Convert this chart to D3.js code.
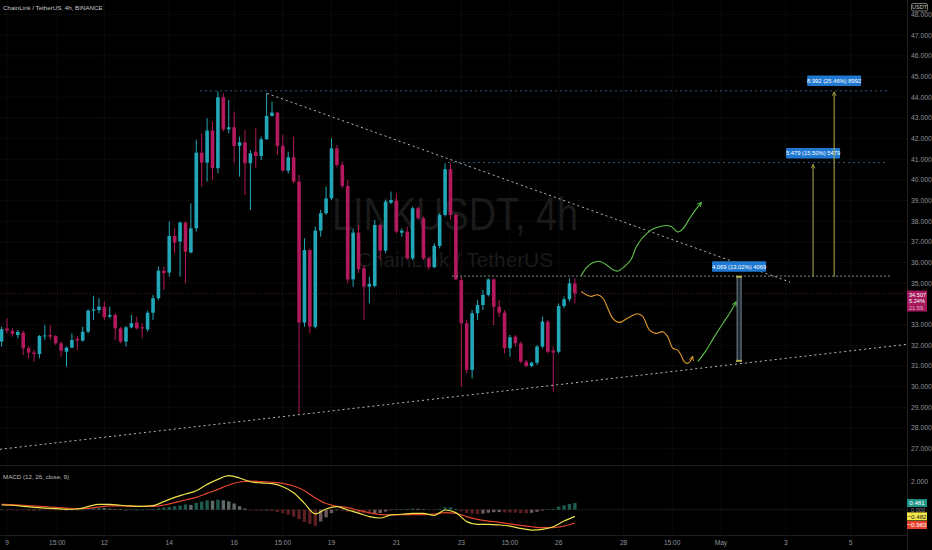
<!DOCTYPE html>
<html><head><meta charset="utf-8">
<script src="https://cdn.jsdelivr.net/npm/d3@7/dist/d3.min.js"></script>
<style>html,body{margin:0;padding:0;background:#000;overflow:hidden}svg{display:block}</style>
</head><body><svg id="c" width="932" height="550"></svg>
<script>
// ---------- DATA ----------
const title = "ChainLink / TetherUS, 4h, BINANCE";
const firstCandleDay = 8 + 20/24; // Apr 8 20:00, 4h candles
const openP  = [32.18,32.82,32.71,32.50,32.61,31.86,31.65,31.58,32.45,32.50,32.45,32.10,31.69,31.89,32.31,32.23,32.66,33.68,33.71,33.87,33.39,33.47,32.82,32.18,32.87,33.10,32.87,32.77,33.58,34.28,35.61,35.52,37.29,37.02,37.94,36.49,37.66,41.32,40.84,42.39,40.57,44.00,42.45,42.55,41.65,41.82,40.81,41.37,41.16,41.97,43.10,43.26,41.65,40.45,41.10,39.92,33.10,36.61,32.90,37.55,38.39,39.11,41.53,40.73,39.71,35.19,37.45,35.73,34.84,34.87,37.82,36.58,38.90,39.00,37.45,37.50,36.21,38.63,38.15,36.21,35.78,36.81,38.31,40.52,38.31,35.16,33.07,30.81,33.55,33.95,34.44,35.19,33.87,33.58,31.86,32.42,32.10,31.21,31.00,31.16,31.94,33.15,31.74,31.69,33.90,34.23,35.00];
const highP  = [32.90,33.31,32.82,32.74,32.71,31.97,31.78,32.50,32.99,32.99,32.50,32.18,31.94,32.58,32.45,32.90,33.74,34.40,34.28,34.13,33.87,33.55,32.90,32.94,33.47,33.39,33.07,33.68,34.44,35.81,35.81,37.99,37.66,37.99,37.99,38.87,41.94,42.26,42.99,42.82,44.28,44.19,43.87,43.31,42.10,42.42,41.45,42.50,42.10,44.19,43.79,43.31,42.18,41.37,42.10,40.24,37.18,36.69,37.74,38.55,39.68,42.02,41.69,40.89,40.00,37.66,37.82,35.89,35.32,38.07,37.90,39.03,39.44,39.36,37.66,37.74,38.71,38.71,38.23,36.29,36.94,38.39,40.81,40.81,38.39,35.32,33.23,33.71,34.19,34.68,35.24,35.24,34.19,33.71,32.50,32.50,32.18,31.29,31.21,32.02,33.39,33.23,31.94,34.03,34.36,35.24,35.24];
const lowP   = [31.94,32.58,32.42,32.34,31.53,31.37,31.21,31.37,32.26,32.26,32.02,31.45,30.97,31.86,31.78,32.18,32.58,33.23,33.55,33.23,33.31,32.26,32.10,31.94,32.82,32.77,32.34,32.66,33.23,34.20,34.68,35.32,36.45,35.32,35.00,36.45,37.50,39.68,39.92,40.00,40.32,42.34,42.26,40.81,40.16,39.27,38.55,40.57,40.97,41.94,43.07,41.21,40.40,40.32,39.84,28.71,32.90,32.58,32.82,37.26,38.31,39.03,40.61,39.60,35.00,34.84,35.49,33.23,34.03,34.81,36.13,36.45,38.84,37.42,37.26,36.13,36.13,38.07,36.13,35.65,35.73,36.69,38.23,38.07,35.16,30.00,30.65,30.40,33.23,33.71,34.36,32.98,33.39,31.61,31.45,31.94,31.13,30.94,30.94,31.05,31.86,31.61,29.76,31.61,33.79,34.11,34.03];
const closeP = [32.78,32.71,32.55,32.65,31.86,31.65,31.58,32.45,32.48,32.42,32.10,31.74,31.89,32.26,32.23,32.66,33.68,33.74,33.87,33.36,33.47,32.82,32.18,32.87,33.07,32.82,32.82,33.58,34.28,35.61,35.49,37.29,36.97,37.94,36.53,37.66,41.32,40.84,42.39,40.57,44.00,42.45,42.55,41.65,41.82,40.81,41.29,41.16,41.97,43.10,43.26,41.65,40.45,41.10,39.92,33.10,36.61,32.90,37.55,38.39,39.11,41.53,40.73,39.71,35.19,37.45,35.68,34.84,34.97,37.82,36.58,38.95,39.03,37.50,37.55,36.21,38.63,38.15,36.21,35.78,36.81,38.31,40.52,38.31,35.19,33.07,30.81,33.55,33.95,34.44,35.19,33.87,33.58,31.86,32.39,32.10,31.21,31.00,31.16,31.94,33.15,31.69,31.65,33.90,34.23,35.00,34.51];

// MACD (12,26,close,9)
const macdHist = [0.00,-0.02,-0.03,-0.04,-0.06,-0.07,-0.06,-0.03,-0.03,-0.03,-0.05,-0.07,-0.07,-0.04,-0.03,0.00,0.06,0.12,0.15,0.12,0.08,0.04,0.02,0.00,0.01,0.00,0.00,0.02,0.05,0.10,0.15,0.20,0.25,0.30,0.38,0.35,0.50,0.58,0.68,0.65,0.72,0.68,0.60,0.45,0.25,0.08,-0.03,-0.06,-0.07,-0.05,-0.10,-0.17,-0.25,-0.35,-0.50,-0.68,-0.88,-1.02,-1.18,-0.85,-0.55,-0.25,-0.05,-0.08,-0.15,-0.18,-0.20,-0.25,-0.28,-0.27,-0.24,-0.14,-0.04,0.02,0.04,0.03,0.08,0.07,0.02,-0.02,-0.03,0.05,0.17,0.17,0.04,-0.12,-0.24,-0.28,-0.32,-0.28,-0.22,-0.18,-0.17,-0.20,-0.20,-0.21,-0.25,-0.26,-0.22,-0.15,-0.06,0.02,0.06,0.22,0.32,0.42,0.48];
const macdIdx = [0,2,4,6,8,10,12,14,16,18,20,22,24,26,28,30,32,34,36,38,40,42,44,46,48,50,52,54,56,58,60,62,64,66,68,70,72,74,76,78,80,82,84,86,88,90,92,94,96,98,100,102,104,106];
const macdLine = [0.34,0.32,0.24,0.17,0.12,0.08,0.03,0.05,0.22,0.39,0.39,0.32,0.27,0.24,0.29,0.58,0.89,1.13,1.37,1.83,2.19,2.46,2.29,2.02,1.93,1.88,1.66,1.23,0.46,-0.30,0.05,0.22,-0.02,-0.25,-0.50,-0.60,-0.38,-0.33,-0.26,-0.26,-0.41,-0.02,-0.21,-0.86,-1.06,-1.06,-1.10,-1.18,-1.35,-1.47,-1.42,-1.23,-0.82,-0.48];
const signalLine = [0.39,0.36,0.32,0.27,0.22,0.17,0.12,0.08,0.10,0.20,0.27,0.27,0.24,0.24,0.24,0.34,0.51,0.70,0.89,1.18,1.47,1.78,2.00,2.07,2.02,1.98,1.90,1.71,1.37,0.85,0.45,0.25,0.15,-0.05,-0.22,-0.35,-0.38,-0.36,-0.36,-0.36,-0.31,-0.21,-0.26,-0.50,-0.70,-0.82,-0.91,-1.03,-1.13,-1.23,-1.30,-1.30,-1.18,-0.96];

// axis ticks
const priceTicks = [27,28,29,30,31,32,33,34,35,36,37,38,39,40,41,42,43,44,45,46,47,48];
const macdTicks = [2, 0];
const timeTickDays   = [9,10.55,12,14,16,17.5,19,21,23,24.5,26,28,29.5,31,33,35];
const timeTickLabels = ["9","15:00","12","14","16","15:00","19","21","23","15:00","26","28","15:00","May","3","5"];

// drawings (day, price)
const hLines = [
  {d0:14.95, d1:36.21, p:44.31, kind:"blue"},
  {d0:22.59, d1:36.15, p:40.84, kind:"blue"},
  {d0:22.71, d1:36.21, p:35.35, kind:"grey"}
];
const trendDown = [[17.01,44.19],[33.13,35.06]];
const trendUp   = [[8.78,26.97],[36.74,32.05]];
const greenUpDays   = [26.69,26.85,27.05,27.25,27.46,27.66,27.81,28.02,28.23,28.38,28.54,28.74,28.85,29.05,29.31,29.47,29.67,29.83,30.03,30.24,30.40];
const greenUpPrices = [35.35,35.75,35.99,36.07,35.91,35.67,35.59,35.80,36.15,36.72,37.12,37.44,37.58,37.71,37.80,37.75,37.48,37.64,38.12,38.60,38.92];
const orangeDays   = [26.69,26.85,27.00,27.20,27.36,27.51,27.66,27.87,28.13,28.43,28.59,28.80,29.00,29.21,29.36,29.52,29.67,29.77,29.87,29.98,30.08,30.13];
const orangePrices = [34.61,34.45,34.37,34.45,34.29,33.81,33.32,33.11,33.32,33.53,33.40,32.74,32.58,32.66,32.42,31.86,31.77,31.53,31.21,31.13,31.29,31.48];
const greenLowDays   = [30.29,30.55,30.80,31.06,31.27,31.47];
const greenLowPrices = [31.21,31.77,32.42,33.06,33.55,34.11];
const measures = [
  {d:31.56, p0:31.25, p1:35.32, label:"4.069 (13.02%) 4069", kind:"box"},
  {d:33.84, p0:35.32, p1:40.80, label:"5.479 (15.50%) 5479", kind:"arrow"},
  {d:34.49, p0:35.32, p1:44.31, label:"8.992 (25.46%) 8992", kind:"arrow"}
];
const lastPrice = 34.507, lastChange = "5.24%", countdown = "21:59";
const lastMacd = -0.482, lastSignal = -0.963, lastHist = 0.481;

// ---------- LAYOUT ----------
const svg = d3.select("#c");
const W = 907, mainBot = 465, macdTop = 466, macdBot = 535;
const font = "'Liberation Sans', Arial, sans-serif";
const upC = "#22a7b8", dnC = "#b3195d";

const x = d3.scaleLinear().domain([9,35]).range([7, 7 + 26*32.45]);
const y = d3.scaleLinear().domain([27,48]).range([448.7,14.6]);
const ym = d3.scaleLinear().domain([0,2]).range([509.7,482]);
const cx = i => x(firstCandleDay + i/6);

svg.append("rect").attr("width",932).attr("height",550).attr("fill","#000");
const defs = svg.append("defs");
defs.append("clipPath").attr("id","cm").append("rect").attr("x",0).attr("y",0).attr("width",W).attr("height",mainBot);
defs.append("clipPath").attr("id","cd").append("rect").attr("x",0).attr("y",macdTop).attr("width",W).attr("height",macdBot-macdTop);
function mk(id,color){
  defs.append("marker").attr("id",id).attr("viewBox","0 0 10 10").attr("refX",9).attr("refY",5)
   .attr("markerWidth",5).attr("markerHeight",5).attr("orient","auto")
   .append("path").attr("d","M1,1 L9,5 L1,9").attr("fill","none").attr("stroke",color).attr("stroke-width",1.6);
}
mk("ag","#5fc04a"); mk("ao","#e39a2c"); mk("ay","#b3ad4c");

// grid
const grid = svg.append("g");
grid.selectAll("line.h").data(priceTicks).join("line")
  .attr("x1",0).attr("x2",W).attr("y1",d=>y(d)).attr("y2",d=>y(d)).attr("stroke","#0b0b0b");
grid.selectAll("line.v").data(timeTickDays).join("line")
  .attr("x1",d=>x(d)).attr("x2",d=>x(d)).attr("y1",0).attr("y2",macdBot).attr("stroke","#0b0b0b");

// watermark
svg.append("text").attr("x",455).attr("y",230).attr("text-anchor","middle").attr("font-family",font)
  .attr("font-size",46).attr("textLength",246).attr("lengthAdjust","spacingAndGlyphs")
  .attr("fill","#1a1a1a").text("LINKUSDT, 4h");
svg.append("text").attr("x",455).attr("y",267).attr("text-anchor","middle").attr("font-family",font)
  .attr("font-size",21).attr("textLength",196).attr("lengthAdjust","spacingAndGlyphs")
  .attr("fill","#1a1a1a").text("ChainLink / TetherUS");

// main pane
const gm = svg.append("g").attr("clip-path","url(#cm)");
gm.append("line").attr("x1",0).attr("x2",W).attr("y1",y(lastPrice)).attr("y2",y(lastPrice))
  .attr("stroke","#4a1530").attr("stroke-dasharray","1,2");

const idx = d3.range(openP.length);
const bw = 3.6;
gm.selectAll("line.w").data(idx).join("line")
  .attr("x1",i=>cx(i)).attr("x2",i=>cx(i)).attr("y1",i=>y(highP[i])).attr("y2",i=>y(lowP[i]))
  .attr("stroke",i=>closeP[i]>=openP[i]?upC:dnC).attr("stroke-width",1);
gm.selectAll("rect.b").data(idx).join("rect")
  .attr("x",i=>cx(i)-bw/2).attr("width",bw)
  .attr("y",i=>y(Math.max(openP[i],closeP[i])))
  .attr("height",i=>Math.max(1,Math.abs(y(openP[i])-y(closeP[i]))))
  .attr("fill",i=>closeP[i]>=openP[i]?upC:dnC);

hLines.forEach(h=>{
  gm.append("line").attr("x1",x(h.d0)).attr("x2",x(h.d1)).attr("y1",y(h.p)).attr("y2",y(h.p))
    .attr("stroke",h.kind==="blue"?"#2e5b86":"#8c8c8c").attr("stroke-width",1)
    .attr("stroke-dasharray",h.kind==="blue"?"2,3":"2,2");
});
[trendDown,trendUp].forEach(t=>{
  gm.append("line").attr("x1",x(t[0][0])).attr("y1",y(t[0][1])).attr("x2",x(t[1][0])).attr("y2",y(t[1][1]))
    .attr("stroke","#b9b9b9").attr("stroke-width",1).attr("stroke-dasharray","2,3");
});
const lineGen = d3.line().x(d=>x(d[0])).y(d=>y(d[1])).curve(d3.curveCatmullRom);
gm.append("path").attr("d",lineGen(d3.zip(greenUpDays,greenUpPrices))).attr("fill","none")
  .attr("stroke","#5fc04a").attr("stroke-width",1.1).attr("marker-end","url(#ag)");
gm.append("path").attr("d",lineGen(d3.zip(orangeDays,orangePrices))).attr("fill","none")
  .attr("stroke","#e39a2c").attr("stroke-width",1.1).attr("marker-end","url(#ao)");
gm.append("path").attr("d",lineGen(d3.zip(greenLowDays,greenLowPrices))).attr("fill","none")
  .attr("stroke","#5fc04a").attr("stroke-width",1.1).attr("marker-end","url(#ag)");

measures.forEach(m=>{
  const xx = x(m.d), yt = y(m.p1), yb = y(m.p0);
  if(m.kind==="box"){
    gm.append("rect").attr("x",xx-2).attr("width",4).attr("y",yt).attr("height",yb-yt)
      .attr("fill","rgba(90,120,140,0.35)").attr("stroke","#8fa5b0").attr("stroke-width",0.8);
    gm.append("rect").attr("x",xx-3).attr("width",6).attr("y",yt-1).attr("height",2).attr("fill","#b3ad4c");
    gm.append("rect").attr("x",xx-3).attr("width",6).attr("y",yb-1).attr("height",2).attr("fill","#b3ad4c");
  } else {
    gm.append("line").attr("x1",xx).attr("x2",xx).attr("y1",yb).attr("y2",yt+1)
      .attr("stroke","#b3ad4c").attr("stroke-width",1).attr("marker-end","url(#ay)");
  }
  const tw = 54, th = 10.5, by = yt - 15.5;
  gm.append("rect").attr("x",xx-tw/2).attr("y",by).attr("width",tw).attr("height",th).attr("rx",1)
    .attr("fill","#1f78d1");
  gm.append("text").attr("x",xx).attr("y",by+7.4).attr("text-anchor","middle").attr("font-family",font)
    .attr("font-size",5.8).attr("fill","#fff").text(m.label);
});

// MACD pane
const gd = svg.append("g").attr("clip-path","url(#cd)");
gd.append("line").attr("x1",0).attr("x2",W).attr("y1",ym(0)).attr("y2",ym(0)).attr("stroke","#1a1a1a");
function histColor(i){
  const v = macdHist[i], p = i>0?macdHist[i-1]:v;
  if(v>=0) return v>=p ? "#1f5a4f" : "#5d6a68";
  return v<=p ? "#5b1f22" : "#6e5a5c";
}
gd.selectAll("rect.h").data(idx).join("rect")
  .attr("x",i=>cx(i)-1.7).attr("width",3.4)
  .attr("y",i=>Math.min(ym(0),ym(macdHist[i])))
  .attr("height",i=>Math.max(0.6,Math.abs(ym(macdHist[i])-ym(0))))
  .attr("fill",i=>histColor(i));
const ml = d3.line().x(d=>cx(d[0])).y(d=>ym(d[1])).curve(d3.curveMonotoneX);
gd.append("path").attr("d",ml(d3.zip(macdIdx,signalLine))).attr("fill","none").attr("stroke","#e2452b").attr("stroke-width",1.2);
gd.append("path").attr("d",ml(d3.zip(macdIdx,macdLine))).attr("fill","none").attr("stroke","#ece24a").attr("stroke-width",1.2);

// separators
svg.append("line").attr("x1",0).attr("x2",932).attr("y1",465.5).attr("y2",465.5).attr("stroke","#1c1c1c");
svg.append("line").attr("x1",0).attr("x2",W).attr("y1",535.5).attr("y2",535.5).attr("stroke","#1c1c1c");
svg.append("line").attr("x1",W+0.5).attr("x2",W+0.5).attr("y1",0).attr("y2",550).attr("stroke","#1e1e1e");

// right axis (labels hidden where the last-price tag covers them)
const ly = y(lastPrice);
const visibleTicks = priceTicks.filter(d => y(d) < ly-7 || y(d) > ly+22);
const ax = svg.append("g").attr("font-family",font).attr("font-size",6.8).attr("fill","#8f939b");
ax.selectAll("text.p").data(visibleTicks).join("text").attr("x",911).attr("y",d=>y(d)+2.4).text(d=>d3.format(".3f")(d));
ax.selectAll("text.m").data(macdTicks).join("text").attr("x",911).attr("y",d=>ym(d)+2.4)
  .attr("font-size",d=>d===0?5.6:6.8).text(d=>d3.format(".3f")(d));
svg.append("rect").attr("x",911.5).attr("y",3.5).attr("width",16).attr("height",7.5).attr("rx",1.5)
  .attr("fill","none").attr("stroke","#777");
svg.append("text").attr("x",919.5).attr("y",9.3).attr("text-anchor","middle").attr("font-family",font)
  .attr("font-size",5.6).attr("fill","#c8c8c8").text("USDT");

// last price tag
svg.append("rect").attr("x",907).attr("y",ly-3).attr("width",20).attr("height",21).attr("fill","#a3195b");
[[d3.format(".3f")(lastPrice),"#fff"],[lastChange,"#fff"],[countdown,"#e4a9c4"]].forEach((t,k)=>{
  svg.append("text").attr("x",909).attr("y",ly+3+k*6.7).attr("font-family",font).attr("font-size",5.6)
    .attr("fill",t[1]).text(t[0]);
});

// MACD tags (stacked like the reference)
[[lastHist,"#1b9686","#fff",0],[lastMacd,"#f1e64a","#222",0],[lastSignal,"#e5412f","#fff",2]].forEach(t=>{
  const yy = ym(t[0]) + t[3];
  svg.append("rect").attr("x",907).attr("y",yy-4).attr("width",20).attr("height",8).attr("fill",t[1]);
  svg.append("text").attr("x",917).attr("y",yy+2.2).attr("text-anchor","middle").attr("font-family",font)
    .attr("font-size",6.2).attr("fill",t[2]).text(d3.format(".3f")(t[0]).replace("-","\u2212"));
});

// time axis
svg.append("g").attr("font-family",font).attr("font-size",6.6).attr("fill","#8f939b")
  .selectAll("text").data(timeTickDays).join("text")
  .attr("x",d=>x(d)).attr("y",545).attr("text-anchor","middle").text((d,i)=>timeTickLabels[i]);

// titles
svg.append("text").attr("x",3).attr("y",10).attr("font-family",font).attr("font-size",6.2).attr("fill","#c9c9c9").text(title);
svg.append("text").attr("x",3).attr("y",478.5).attr("font-family",font).attr("font-size",6.2).attr("fill","#bdbdbd").text("MACD (12, 26, close, 9)");
</script></body></html>
